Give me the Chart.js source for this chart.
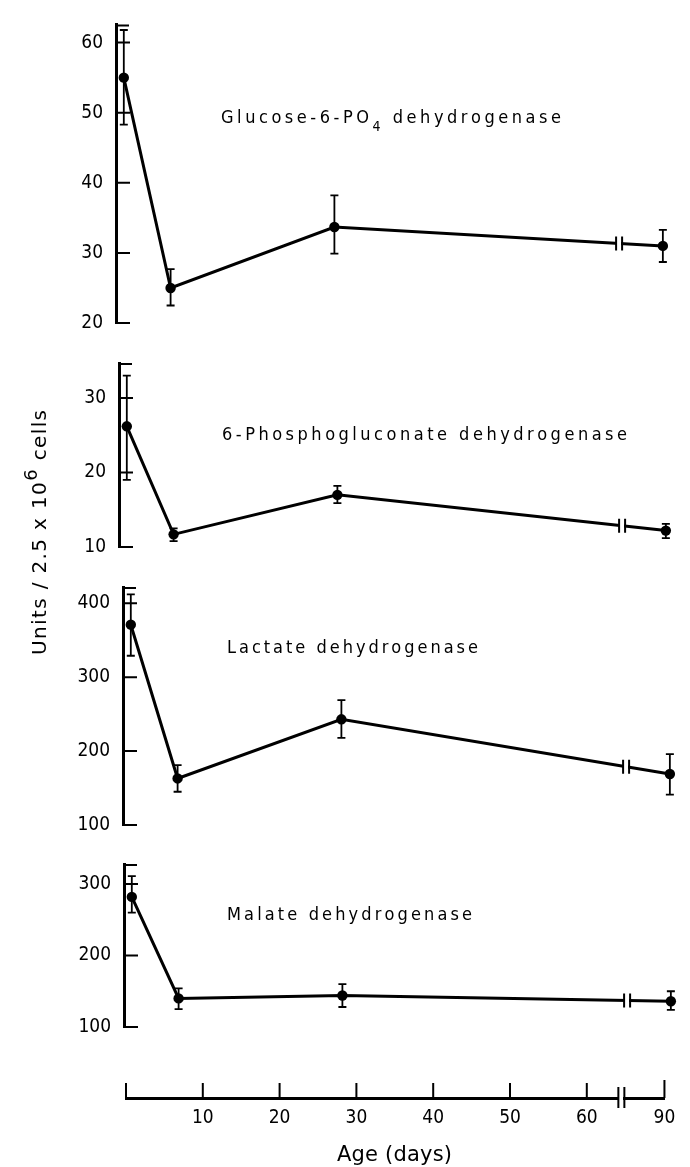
<!DOCTYPE html>
<html>
<head>
<meta charset="utf-8">
<title>Dehydrogenase activity vs age</title>
<script src="https://cdn.jsdelivr.net/npm/chart.js@4.4.0/dist/chart.umd.min.js"></script>
<style>
  html, body { margin: 0; padding: 0; background: #fff; }
  #page { position: relative; width: 690px; height: 1167px; }
  #page canvas { position: absolute; left: 0; top: 0; }
</style>
</head>
<body>
<div id="page">
  <canvas id="p1" width="690" height="1167"></canvas>
  <canvas id="p2" width="690" height="1167"></canvas>
  <canvas id="p3" width="690" height="1167"></canvas>
  <canvas id="p4" width="690" height="1167"></canvas>
  <canvas id="axis" width="690" height="1167"></canvas>
</div>
<script>
// age (days) at which each sample was taken
const ages = [1, 7, 28, 90];
const ageTicks = [10, 20, 30, 40, 50, 60, 90];

// Glucose-6-PO4 dehydrogenase
const g6pdMean = [55, 25, 33.7, 31];
const g6pdLow = [48.3, 22.5, 29.9, 28.7];
const g6pdHigh = [61.8, 27.7, 38.2, 33.3];
const g6pdTicks = [20, 30, 40, 50, 60];

// 6-Phosphogluconate dehydrogenase
const pgdMean = [26.2, 11.7, 17.0, 12.2];
const pgdLow = [19.0, 10.8, 15.9, 11.2];
const pgdHigh = [33.0, 12.5, 18.2, 13.1];
const pgdTicks = [10, 20, 30];

// Lactate dehydrogenase
const ldhMean = [371, 163, 243, 169];
const ldhLow = [329, 145, 218, 141];
const ldhHigh = [412, 181, 269, 196];
const ldhTicks = [100, 200, 300, 400];

// Malate dehydrogenase
const mdhMean = [282, 140, 144, 136];
const mdhLow = [260, 125, 128, 124];
const mdhHigh = [311, 154, 160, 150];
const mdhTicks = [100, 200, 300];

// the age axis is broken after day 64.5, the rest is squeezed
const BREAK_DAY = 64.5;
const SQUEEZE = 0.22;
function axisPos(day) {
    return day <= BREAK_DAY ? day : BREAK_DAY + (day - BREAK_DAY) * SQUEEZE;
}

const NARROW = '"Liberation Sans Narrow", "DejaVu Sans Condensed", "Liberation Sans", sans-serif';
const PANEL_PX_PER_DAY = 7.8;
const PANEL_X_MAX = 71;
const AXIS_PX_PER_DAY = 7.68;

// draw text glyph by glyph so that it spans a given width
function drawSpaced(ctx, parts, x, y, target) {
    const glyphs = [];
    parts.forEach(pt => {
        for (const ch of pt.text) glyphs.push({ ch: ch, font: pt.font, dy: pt.dy || 0 });
    });
    let natural = 0;
    glyphs.forEach(g => {
        ctx.font = g.font;
        g.w = ctx.measureText(g.ch).width;
        natural += g.w;
    });
    const gap = glyphs.length > 1 ? (target - natural) / (glyphs.length - 1) : 0;
    glyphs.forEach(g => {
        ctx.font = g.font;
        ctx.fillText(g.ch, x, y + g.dy);
        x += g.w + gap;
    });
}

const panels = [
    { id: 'p1', mean: g6pdMean, low: g6pdLow, high: g6pdHigh, ticks: g6pdTicks, min: 20, max: 62.6,
      left: 116, top: 13, bottom: 323,
      label: [{ text: 'Glucose-6-PO' }, { text: '4', sub: true }, { text: ' dehydrogenase' }],
      labelX: 221, labelY: 123, labelW: 340 },
    { id: 'p2', mean: pgdMean, low: pgdLow, high: pgdHigh, ticks: pgdTicks, min: 10, max: 34.7,
      left: 119, top: 363, bottom: 547,
      label: [{ text: '6-Phosphogluconate dehydrogenase' }],
      labelX: 222, labelY: 440, labelW: 405 },
    { id: 'p3', mean: ldhMean, low: ldhLow, high: ldhHigh, ticks: ldhTicks, min: 100, max: 422,
      left: 123, top: 587, bottom: 825,
      label: [{ text: 'Lactate dehydrogenase' }],
      labelX: 227, labelY: 653, labelW: 251 },
    { id: 'p4', mean: mdhMean, low: mdhLow, high: mdhHigh, ticks: mdhTicks, min: 100, max: 328,
      left: 124, top: 864, bottom: 1027,
      label: [{ text: 'Malate dehydrogenase' }],
      labelX: 227, labelY: 920, labelW: 245 }
];

// inward ticks, error bars, the axis break and the panel name
function decorFor(p) {
    return {
        id: 'decor',
        afterDraw(chart) {
            const { ctx, chartArea } = chart;
            const x = chart.scales.x, y = chart.scales.y;
            ctx.save();
            ctx.strokeStyle = '#000';
            ctx.fillStyle = '#000';

            ctx.lineWidth = 2;
            ctx.beginPath();
            p.ticks.forEach(v => {
                const py = y.getPixelForValue(v);
                ctx.moveTo(chartArea.left, py);
                ctx.lineTo(chartArea.left + 14, py);
            });
            ctx.moveTo(chartArea.left, chartArea.top + 1);
            ctx.lineTo(chartArea.left + 13, chartArea.top + 1);
            ctx.stroke();

            ctx.lineWidth = 1.8;
            ages.forEach((a, i) => {
                const px = x.getPixelForValue(axisPos(a));
                const y1 = y.getPixelForValue(p.low[i]);
                const y2 = y.getPixelForValue(p.high[i]);
                ctx.beginPath();
                ctx.moveTo(px, y1); ctx.lineTo(px, y2);
                ctx.moveTo(px - 4, y1); ctx.lineTo(px + 4, y1);
                ctx.moveTo(px - 4, y2); ctx.lineTo(px + 4, y2);
                ctx.stroke();
            });

            // break marks on the line
            const pts = chart.getDatasetMeta(0).data;
            const a = pts[2], b = pts[3];
            const bx = x.getPixelForValue(BREAK_DAY);
            const by = a.y + (b.y - a.y) * (bx - a.x) / (b.x - a.x);
            ctx.clearRect(bx - 2, by - 3, 4, 6);
            ctx.lineWidth = 2;
            ctx.beginPath();
            ctx.moveTo(bx - 3, by - 7); ctx.lineTo(bx - 3, by + 7);
            ctx.moveTo(bx + 3, by - 7); ctx.lineTo(bx + 3, by + 7);
            ctx.stroke();

            const parts = p.label.map(l => l.sub
                ? { text: l.text, font: '14px ' + NARROW, dy: 8 }
                : { text: l.text, font: '18px ' + NARROW });
            drawSpaced(ctx, parts, p.labelX, p.labelY, p.labelW);
            ctx.restore();
        }
    };
}

function makePanel(p) {
    const right = 690 - p.left - PANEL_X_MAX * PANEL_PX_PER_DAY;
    new Chart(document.getElementById(p.id), {
        type: 'scatter',
        data: {
            datasets: [{
                data: ages.map((a, i) => ({ x: axisPos(a), y: p.mean[i] })),
                showLine: true,
                borderColor: '#000',
                borderWidth: 3,
                pointRadius: 5.2,
                pointBackgroundColor: '#000',
                pointBorderWidth: 0,
                clip: false
            }]
        },
        options: {
            responsive: false,
            animation: false,
            devicePixelRatio: 1,
            layout: { padding: { left: 0, right: right, top: p.top, bottom: 1167 - p.bottom } },
            plugins: { legend: { display: false }, tooltip: { enabled: false } },
            scales: {
                x: { type: 'linear', display: false, min: 0, max: PANEL_X_MAX },
                y: {
                    min: p.min,
                    max: p.max,
                    afterFit: s => { s.width = p.left; },
                    afterBuildTicks: s => { s.ticks = p.ticks.map(v => ({ value: v })); },
                    grid: { display: false, drawTicks: false },
                    border: { display: true, color: '#000', width: 3 },
                    ticks: { color: '#000', padding: 13, font: { family: NARROW, size: 19 } }
                }
            }
        },
        plugins: [decorFor(p)]
    });
}

panels.forEach(makePanel);

// shared age axis and the two axis titles
const axisDecor = {
    id: 'axisDecor',
    afterDraw(chart) {
        const { ctx } = chart;
        const x = chart.scales.x;
        const axisY = x.top;
        ctx.save();
        ctx.strokeStyle = '#000';
        ctx.fillStyle = '#000';
        ctx.lineWidth = 2;
        ctx.beginPath();
        [0].concat(ageTicks).forEach(d => {
            const px = x.getPixelForValue(axisPos(d));
            ctx.moveTo(px, axisY);
            ctx.lineTo(px, axisY - (d === 90 ? 18 : 15));
        });
        ctx.stroke();

        const bx = x.getPixelForValue(BREAK_DAY);
        ctx.clearRect(bx - 2, axisY - 3, 4, 6);
        ctx.beginPath();
        ctx.moveTo(bx - 3, axisY - 11); ctx.lineTo(bx - 3, axisY + 10);
        ctx.moveTo(bx + 3, axisY - 11); ctx.lineTo(bx + 3, axisY + 10);
        ctx.stroke();

        drawSpaced(ctx, [{ text: 'Age (days)', font: '21px "DejaVu Sans", sans-serif' }], 337, 1161, 115);

        ctx.translate(46, 655);
        ctx.rotate(-Math.PI / 2);
        drawSpaced(ctx, [
            { text: 'Units / 2.5 x 10', font: '20px "DejaVu Sans", sans-serif' },
            { text: '6', font: '18px "DejaVu Sans", sans-serif', dy: -9 },
            { text: ' cells', font: '20px "DejaVu Sans", sans-serif' }
        ], 0, 0, 245);
        ctx.restore();
    }
};

new Chart(document.getElementById('axis'), {
    type: 'scatter',
    data: { datasets: [] },
    options: {
        responsive: false,
        animation: false,
        devicePixelRatio: 1,
        layout: { padding: { left: 126, right: 690 - 126 - axisPos(90) * AXIS_PX_PER_DAY, top: 1060, bottom: 1167 - 1098 - 40 } },
        plugins: { legend: { display: false }, tooltip: { enabled: false } },
        scales: {
            x: {
                type: 'linear',
                position: 'bottom',
                min: 0,
                max: axisPos(90),
                afterFit: s => { s.height = 40; },
                afterBuildTicks: s => { s.ticks = ageTicks.map(d => ({ value: axisPos(d) })); },
                grid: { display: false, drawTicks: false },
                border: { display: true, color: '#000', width: 3 },
                ticks: {
                    color: '#000', padding: 9, maxRotation: 0, autoSkip: false,
                    font: { family: NARROW, size: 19 },
                    callback: (v, i) => ageTicks[i]
                }
            },
            y: { display: false, min: 0, max: 1 }
        }
    },
    plugins: [axisDecor]
});
</script>
</body>
</html>
